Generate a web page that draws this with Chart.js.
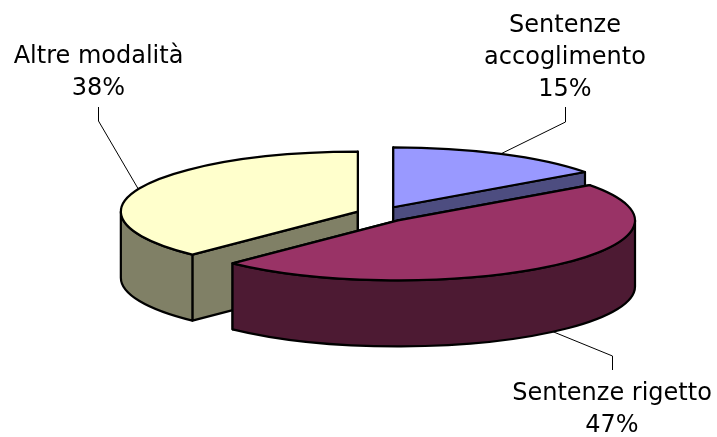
<!DOCTYPE html>
<html>
<head>
<meta charset="utf-8">
<style>
  html, body { margin: 0; padding: 0; background: #fff; overflow: hidden; }
  canvas { display: block; }
</style>
<script src="https://cdn.jsdelivr.net/npm/chart.js@4/dist/chart.umd.js"></script>
</head>
<body>
<div style="width:717px;height:437px"><canvas id="myChart" width="717" height="437"></canvas></div>
<script>
var categories = ['Sentenze accoglimento', 'Sentenze rigetto', 'Altre modalità'];
var values = [15, 47.3, 37.7];

var labelLines = [['Sentenze', 'accoglimento'], ['Sentenze rigetto'], ['Altre modalità']];
var topColors = ['#9999FF', '#993366', '#FFFFCC'];
var wallColors = ['#4D4D80', '#4D1A33', '#808066'];

// look of the fake 3d
var radius = 237;
var squash = 0.253;
var depth = 66;
var explode = [27, 26, 25];
var explodeTilt = 0.3;
var paintOrder = [0, 2, 1]; // rigetto sits in front of the others

// label centre / first baseline, then the leader elbow and its free end
var labelPos = [[565, 32], [612, 400], [98.5, 63]];
var leaderPos = [[565.5, 122, 565.5, 107], [612.5, 356, 612.5, 370], [98.5, 121, 98.5, 107]];

function sliceGeom(arc, i) {
  var mid = (arc.startAngle + arc.endAngle) / 2;
  return {
    x: arc.x + Math.cos(mid) * explode[i],
    y: arc.y + Math.sin(mid) * explode[i] * explodeTilt,
    rx: arc.outerRadius,
    ry: arc.outerRadius * squash,
    mid: mid
  };
}

function rim(g, a, dy) {
  return [g.x + Math.cos(a) * g.rx, g.y + Math.sin(a) * g.ry + (dy || 0)];
}

function drawWalls(ctx, arc, i) {
  var g = sliceGeom(arc, i);
  ctx.fillStyle = wallColors[i];
  // flat cut faces first, the round wall goes over them
  [arc.startAngle, arc.endAngle].forEach(function(a) {
    var p = rim(g, a);
    ctx.beginPath();
    ctx.moveTo(g.x, g.y);
    ctx.lineTo(p[0], p[1]);
    ctx.lineTo(p[0], p[1] + depth);
    ctx.lineTo(g.x, g.y + depth);
    ctx.closePath();
    ctx.fill();
    ctx.stroke();
  });
  // only the front half of the rim shows
  var a0 = Math.max(arc.startAngle, 0);
  var a1 = Math.min(arc.endAngle, Math.PI);
  if (a1 > a0) {
    var start = rim(g, a0);
    var end = rim(g, a1);
    ctx.beginPath();
    ctx.ellipse(g.x, g.y, g.rx, g.ry, 0, a0, a1);
    ctx.lineTo(end[0], end[1] + depth);
    ctx.ellipse(g.x, g.y + depth, g.rx, g.ry, 0, a1, a0, true);
    ctx.lineTo(start[0], start[1]);
    ctx.closePath();
    ctx.fill();
    ctx.stroke();
  }
}

function drawTop(ctx, arc, i) {
  var g = sliceGeom(arc, i);
  ctx.save();
  ctx.translate(g.x, g.y);
  ctx.scale(1, squash);
  ctx.translate(-arc.x, -arc.y);
  arc.draw(ctx);
  ctx.restore();
  ctx.beginPath();
  ctx.moveTo(g.x, g.y);
  ctx.ellipse(g.x, g.y, g.rx, g.ry, 0, arc.startAngle, arc.endAngle);
  ctx.closePath();
  ctx.stroke();
}

function drawLabels(ctx, arcs, total) {
  ctx.font = '24px "DejaVu Sans"';
  ctx.textAlign = 'center';
  ctx.textBaseline = 'alphabetic';
  arcs.forEach(function(arc, i) {
    var g = sliceGeom(arc, i);
    // the rigetto leader starts on the bottom of the wall, the others on the top rim
    var from = rim(g, g.mid, Math.sin(g.mid) > 0 ? depth : 0);
    ctx.strokeStyle = '#000';
    ctx.lineWidth = 1;
    ctx.beginPath();
    ctx.moveTo(from[0], from[1]);
    ctx.lineTo(leaderPos[i][0], leaderPos[i][1]);
    ctx.lineTo(leaderPos[i][2], leaderPos[i][3]);
    ctx.stroke();

    var pct = Math.round(values[i] / total * 100) + '%';
    var lines = labelLines[i].concat([pct]);
    ctx.fillStyle = '#000';
    lines.forEach(function(line, n) {
      ctx.fillText(line, labelPos[i][0], labelPos[i][1] + n * 32);
    });
  });
}

var pie3d = {
  id: 'pie3d',
  beforeDatasetDraw: function(chart, args) {
    var ctx = chart.ctx;
    var arcs = args.meta.data;
    var total = values.reduce(function(a, b) { return a + b; }, 0);
    ctx.save();
    ctx.strokeStyle = '#000';
    ctx.lineWidth = 2.2;
    ctx.lineJoin = 'round';
    paintOrder.forEach(function(i) { drawWalls(ctx, arcs[i], i); });
    paintOrder.forEach(function(i) { drawTop(ctx, arcs[i], i); });
    drawLabels(ctx, arcs, total);
    ctx.restore();
    return false;
  }
};

var mychart = document.getElementById('myChart').getContext('2d');
new Chart(mychart, {
  type: 'pie',
  data: {
    labels: categories,
    datasets: [{
      data: values,
      backgroundColor: topColors,
      borderWidth: 0,
      radius: radius,
      clip: false
    }]
  },
  options: {
    responsive: false,
    animation: false,
    events: [],
    layout: { padding: { left: 45, bottom: 8 } },
    plugins: { legend: { display: false }, tooltip: { enabled: false } }
  },
  plugins: [pie3d]
});
</script>
</body>
</html>
